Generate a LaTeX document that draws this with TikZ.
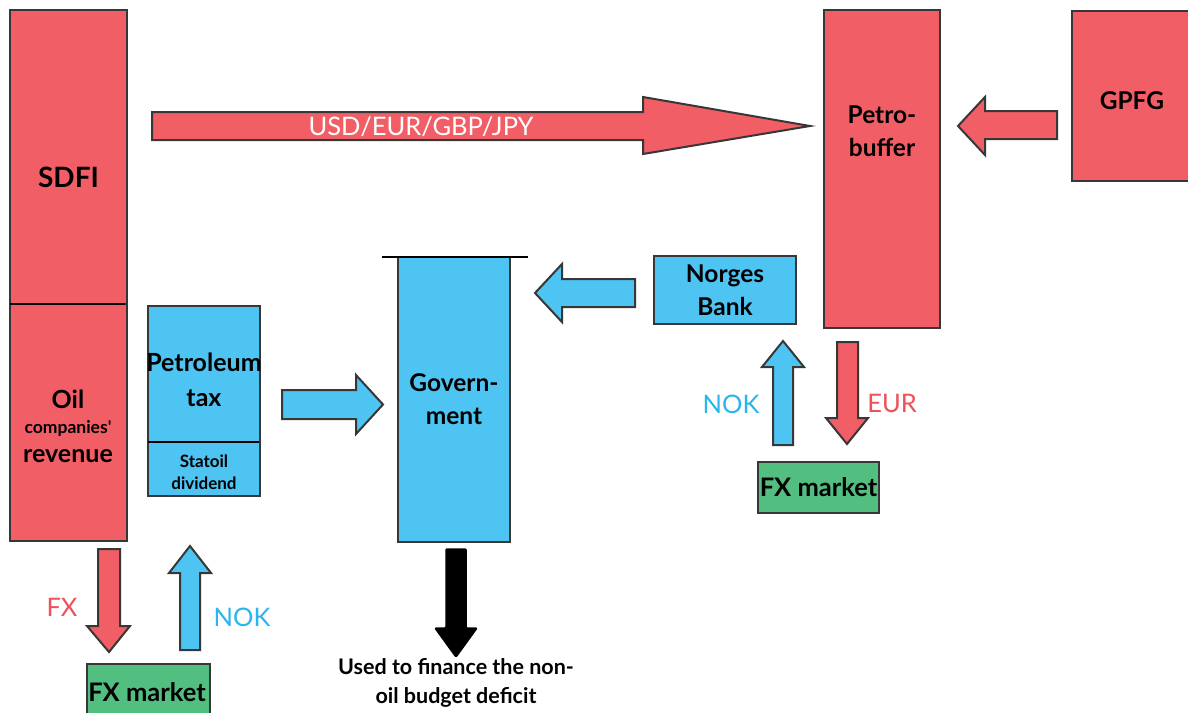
\documentclass[tikz,border=0pt]{standalone}
\usepackage{fontspec}
\setmainfont{Lato}
\begin{document}
\begin{tikzpicture}[x=1pt,y=-1pt,
  bx/.style={draw=bord,line width=2pt,inner sep=0pt,align=center,font=\bfseries\fontsize{24.5}{33}\selectfont},
  redbox/.style={bx,fill=redf},
  bluebox/.style={bx,fill=bluef},
  greenbox/.style={bx,fill=greenf},
  redarr/.style={draw=bord,line width=2pt,fill=redf,line join=miter},
  bluearr/.style={draw=bord,line width=2pt,fill=bluef,line join=miter},
  blackarr/.style={draw=black,line width=1.5pt,fill=black,line join=round,rounded corners=1pt},
  divider/.style={draw=black,line width=2.6pt},
  lbl/.style={inner sep=0pt,font=\fontsize{25.5}{28}\selectfont},
  txt/.style={inner sep=0pt,align=center}]
\definecolor{redf}{RGB}{242,94,101}
\definecolor{bluef}{RGB}{77,196,242}
\definecolor{greenf}{RGB}{82,190,128}
\definecolor{bord}{RGB}{55,55,55}
\definecolor{redt}{RGB}{240,80,90}
\definecolor{bluet}{RGB}{40,182,238}
\clip (0,0) rectangle (1188,712);
\fill[white] (0,0) rectangle (1188,712);

% boxes
\node[redbox,minimum width=117pt,minimum height=294pt] (sdfi) at (68.5,157) {};
\node[txt,font=\bfseries\fontsize{28}{33}\selectfont] (sdfitxt) at (68.5,177) {SDFI};
\node[redbox,minimum width=117pt,minimum height=237pt] (oil) at (68.5,422.5) {};
\draw[divider] (10,304) -- (125,304);
\node[txt,font=\bfseries\fontsize{25}{29}\selectfont] (oiltxt) at (68,399) {Oil};
\node[txt,font=\bfseries\fontsize{17.5}{18}\selectfont] (comptxt) at (68,428) {companies\textquotesingle};
\node[txt,font=\bfseries\fontsize{25}{29}\selectfont] (revtxt) at (68,456) {revenue};

\node[bluebox,minimum width=112pt,minimum height=136pt] (ptax) at (204,374) {};
\node[txt,font=\bfseries\fontsize{25}{35}\selectfont] (ptaxtxt) at (204,380) {Petroleum\\tax};
\node[bluebox,minimum width=112pt,minimum height=54pt] (stat) at (204,469) {};
\node[txt,font=\bfseries\fontsize{17}{22}\selectfont] (stattxt) at (204,472.5) {Statoil\\dividend};
\draw[divider] (148,442) -- (259,442);

\node[bluebox,minimum width=112pt,minimum height=285pt] (gov) at (454,399.5) {Govern-\\ment};
\draw[divider] (382,257) -- (528,257);

\node[bluebox,minimum width=142pt,minimum height=68pt] (nb) at (725,290) {Norges\\Bank};
\node[redbox,minimum width=116pt,minimum height=318pt] (pb) at (882,169) {};
\node[txt,font=\bfseries\fontsize{24.5}{33}\selectfont] (pbtxt) at (882,131) {Petro-\\buffer};
\node[redbox,minimum width=120pt,minimum height=170pt,anchor=north west] (gpfg) at (1071,10) {};
\node[txt,font=\bfseries\fontsize{24.5}{29}\selectfont] (gpfgtxt) at (1132,101) {GPFG};

\node[greenbox,minimum width=123pt,minimum height=60pt,anchor=north west] (fxl) at (86,663) {};
\node[txt,font=\bfseries\fontsize{25.5}{29}\selectfont] (fxltxt) at (147,692) {FX market};
\node[greenbox,minimum width=121pt,minimum height=51pt,font=\bfseries\fontsize{25.5}{29}\selectfont] (fxr) at (818.5,487.5) {FX market};

% block arrows
\draw[redarr] (152,112) -- (643,112) -- (643,97) -- (810,126) -- (643,154) -- (643,140) -- (152,140) -- cycle;
\node[txt,text=white,font=\fontsize{25.5}{28}\selectfont] (usd) at (421,127) {USD/EUR/GBP/JPY};

\draw[redarr] (1057,111) -- (985,111) -- (985,97) -- (958,126) -- (985,155) -- (985,139) -- (1057,139) -- cycle;
\draw[bluearr] (635,279) -- (562,279) -- (562,264) -- (535,293) -- (562,322) -- (562,307) -- (635,307) -- cycle;
\draw[bluearr] (282,390) -- (356,390) -- (356,375) -- (383,404.5) -- (356,434) -- (356,419) -- (282,419) -- cycle;

\draw[blackarr] (446,549) -- (466,549) -- (466,628) -- (477,628) -- (456,657) -- (435,628) -- (446,628) -- cycle;
\node[txt,font=\bfseries\fontsize{21.5}{29}\selectfont] (used) at (456,683) {Used to finance the non-\\oil budget deficit};

\draw[redarr] (98,549) -- (120,549) -- (120,626) -- (130,626) -- (109,652) -- (87,626) -- (98,626) -- cycle;
\node[lbl,text=redt] (fxlbl) at (62,607) {FX};
\draw[bluearr] (180,650) -- (200,650) -- (200,573) -- (211,573) -- (190,546) -- (169,573) -- (180,573) -- cycle;
\node[lbl,text=bluet] (noklbl) at (242,617) {NOK};

\draw[bluearr] (773,445) -- (793,445) -- (793,367) -- (804,367) -- (783,341) -- (762,367) -- (773,367) -- cycle;
\node[lbl,text=bluet] (noklbl2) at (731,404) {NOK};
\draw[redarr] (837,342) -- (858,342) -- (858,418) -- (868,418) -- (847,444) -- (826,418) -- (837,418) -- cycle;
\node[lbl,text=redt] (eurlbl) at (892,403) {EUR};
\end{tikzpicture}
\end{document}
